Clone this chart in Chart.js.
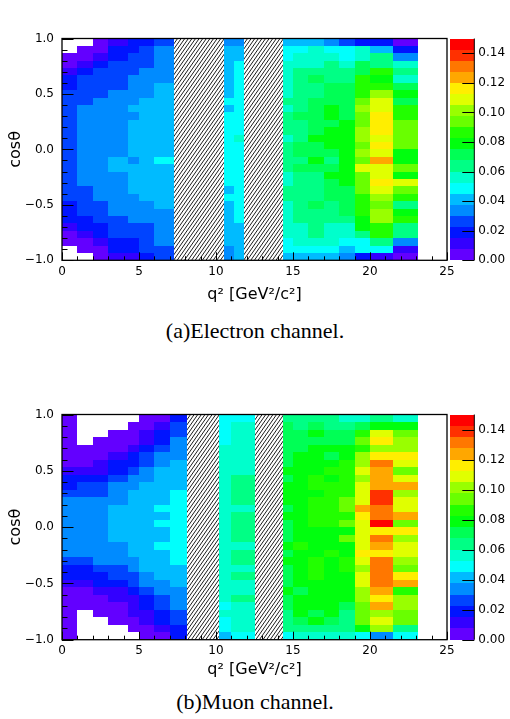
<!DOCTYPE html>
<html>
<head>
<meta charset="utf-8">
<script src="https://cdn.jsdelivr.net/npm/chart.js@4.4.1/dist/chart.umd.min.js"></script>
<style>
  body { margin: 0; background: #fff; }
  #page { position: relative; width: 510px; height: 719px; }
  canvas { position: absolute; left: 0; }
  .cap { position: absolute; left: 0; width: 510px; text-align: center;
         font-family: 'Liberation Serif', serif; font-size: 22px; line-height: 26px; color: #000; }
</style>
</head>
<body>
<div id="page">
  <canvas id="elec" width="510" height="304" style="top:0"></canvas>
  <div class="cap" style="top:318px">(a)Electron channel.</div>
  <canvas id="muon" width="510" height="303" style="top:376px"></canvas>
  <div class="cap" style="top:689px">(b)Muon channel.</div>
</div>
<script>
const n = null;

// q^2 bin edges [GeV^2/c^2]; the veto windows are left empty (hatched)
const elecEdges = [0, 1, 2, 3, 4.3, 5, 6, 7.3, 10.5, 11.2, 11.8, 14.35, 15, 16, 17, 18, 19, 20, 21.5, 23.1];
const elecVeto = [[7.3, 10.5], [11.8, 14.35]];
const muonEdges = [0, 1, 2, 3, 4.3, 5, 6, 7, 8.1, 10.2, 11, 12.55, 14.35, 15, 16, 17, 18, 19, 20, 21.5, 23.1];
const muonVeto = [[8.1, 10.2], [12.55, 14.35]];

// 30 cos(theta) bins, rows listed from cos = +1 (top) down to cos = -1
const cosBins = 30;

// efficiency per cell, electron channel
const elecEff = [
  [n, n, .004, .011, .019, .019, .026, n, .034, .034, n, .041, .041, .041, .034, .026, .019, .019, .004],
  [n, .004, .004, .019, .019, .026, .034, n, .041, .041, n, .049, .049, .056, .049, .049, .056, .041, .019],
  [.004, .004, .011, .019, .026, .026, .034, n, .041, .041, n, .049, .056, .056, .056, .049, .056, .064, .034],
  [.004, .011, .019, .026, .026, .026, .034, n, .041, .049, n, .056, .056, .056, .064, .056, .071, .064, .056],
  [.011, .019, .026, .026, .026, .034, .034, n, .041, .049, n, .056, .064, .064, .064, .064, .071, .086, .064],
  [.019, .026, .026, .026, .034, .034, .034, n, .041, .049, n, .056, .064, .071, .064, .064, .086, .079, .056],
  [.019, .026, .026, .026, .034, .034, .041, n, .041, .049, n, .056, .064, .064, .071, .071, .086, .086, .071],
  [.026, .026, .026, .034, .034, .034, .041, n, .041, .049, n, .056, .064, .064, .071, .071, .086, .101, .079],
  [.026, .026, .034, .034, .034, .041, .041, n, .049, .049, n, .064, .064, .071, .071, .071, .094, .109, .071],
  [.026, .034, .034, .034, .041, .041, .041, n, .041, .049, n, .056, .064, .071, .079, .071, .101, .109, .086],
  [.026, .034, .034, .034, .034, .041, .041, n, .049, .049, n, .064, .071, .071, .079, .071, .094, .116, .086],
  [.026, .034, .034, .034, .041, .041, .041, n, .049, .049, n, .064, .064, .071, .071, .079, .094, .116, .094],
  [.026, .034, .034, .034, .041, .041, .041, n, .049, .049, n, .064, .064, .071, .079, .079, .101, .116, .094],
  [.026, .034, .034, .034, .041, .041, .041, n, .049, .056, n, .056, .064, .079, .079, .079, .101, .109, .094],
  [.026, .034, .034, .034, .041, .041, .041, n, .049, .049, n, .064, .071, .071, .079, .079, .094, .116, .094],
  [.026, .034, .034, .034, .041, .041, .041, n, .049, .049, n, .064, .071, .071, .071, .079, .101, .109, .079],
  [.026, .034, .034, .041, .034, .041, .049, n, .049, .049, n, .064, .064, .079, .064, .079, .094, .124, .079],
  [.026, .034, .034, .041, .041, .041, .041, n, .049, .049, n, .064, .071, .071, .071, .079, .109, .109, .094],
  [.026, .034, .034, .034, .041, .041, .041, n, .049, .049, n, .056, .064, .064, .079, .079, .094, .109, .079],
  [.026, .034, .034, .034, .041, .041, .041, n, .049, .049, n, .056, .064, .064, .071, .079, .094, .116, .109],
  [.026, .026, .034, .034, .041, .041, .041, n, .041, .049, n, .064, .064, .064, .071, .071, .094, .109, .094],
  [.026, .026, .034, .034, .034, .041, .041, n, .049, .049, n, .064, .064, .064, .071, .071, .086, .101, .086],
  [.019, .026, .026, .034, .034, .034, .041, n, .041, .049, n, .056, .064, .071, .064, .071, .086, .094, .064],
  [.019, .026, .026, .034, .034, .034, .034, n, .041, .049, n, .056, .064, .064, .064, .071, .086, .101, .079],
  [.019, .019, .026, .026, .034, .034, .034, n, .041, .049, n, .056, .064, .064, .064, .064, .079, .101, .086],
  [.011, .019, .019, .026, .026, .026, .034, n, .041, .041, n, .056, .056, .064, .056, .056, .079, .086, .064],
  [.004, .011, .019, .026, .026, .026, .034, n, .041, .041, n, .056, .056, .064, .056, .056, .064, .086, .064],
  [.004, .004, .011, .019, .019, .026, .034, n, .041, .041, n, .049, .056, .056, .056, .049, .049, .064, .034],
  [n, .004, .004, .019, .019, .026, .026, n, .034, .041, n, .049, .049, .049, .049, .041, .049, .049, .011],
  [n, n, .004, .011, .011, .019, .026, n, .034, .041, n, .041, .041, .041, .041, .034, .019, .011, .004]
];

// efficiency per cell, muon channel
const muonEff = [
  [.004, n, n, n, n, .004, .004, .019, n, .049, .049, n, .064, .064, .064, .064, .056, .056, .064, .056],
  [.004, n, n, n, .004, .004, .011, .026, n, .049, .056, n, .071, .064, .071, .064, .064, .071, .079, .079],
  [.004, n, n, .004, .004, .011, .019, .026, n, .049, .056, n, .071, .071, .079, .071, .071, .086, .109, .094],
  [.004, n, .004, .004, .004, .011, .019, .034, n, .049, .056, n, .071, .071, .071, .071, .071, .094, .116, .101],
  [.004, .004, .004, .004, .011, .019, .026, .034, n, .056, .056, n, .071, .071, .079, .079, .079, .086, .101, .101],
  [.004, .004, .004, .011, .019, .026, .034, .034, n, .056, .056, n, .071, .079, .079, .071, .079, .101, .116, .116],
  [.004, .004, .011, .019, .019, .026, .034, .041, n, .056, .056, n, .071, .079, .079, .079, .086, .101, .131, .109],
  [.011, .011, .011, .019, .026, .034, .041, .041, n, .056, .056, n, .079, .079, .079, .086, .086, .109, .124, .094],
  [.019, .019, .019, .026, .034, .034, .041, .041, n, .056, .064, n, .071, .079, .086, .079, .086, .101, .124, .109],
  [.019, .026, .026, .034, .034, .041, .041, .041, n, .056, .064, n, .079, .079, .086, .086, .086, .109, .124, .124],
  [.026, .026, .026, .034, .041, .041, .041, .049, n, .056, .064, n, .079, .079, .079, .086, .086, .109, .139, .101],
  [.034, .034, .034, .034, .041, .041, .041, .049, n, .056, .064, n, .079, .079, .086, .086, .094, .109, .139, .109],
  [.034, .034, .034, .041, .041, .041, .049, .049, n, .056, .056, n, .071, .079, .086, .086, .094, .124, .131, .109],
  [.034, .034, .034, .041, .041, .041, .041, .049, n, .056, .064, n, .079, .079, .086, .086, .086, .116, .131, .124],
  [.034, .034, .034, .041, .041, .041, .049, .049, n, .056, .064, n, .071, .079, .086, .086, .094, .109, .146, .094],
  [.034, .034, .034, .041, .041, .041, .041, .049, n, .056, .064, n, .071, .079, .079, .079, .079, .109, .116, .116],
  [.034, .034, .034, .041, .041, .041, .041, .049, n, .056, .064, n, .071, .079, .079, .079, .094, .109, .131, .101],
  [.034, .034, .034, .034, .041, .041, .049, .049, n, .056, .056, n, .079, .086, .079, .079, .079, .109, .124, .109],
  [.034, .034, .034, .034, .041, .041, .041, .049, n, .056, .064, n, .071, .079, .079, .086, .079, .116, .116, .109],
  [.026, .026, .034, .034, .034, .041, .041, .049, n, .056, .064, n, .079, .079, .086, .079, .086, .109, .131, .101],
  [.019, .019, .026, .026, .034, .041, .041, .041, n, .056, .056, n, .071, .079, .086, .079, .086, .101, .131, .094],
  [.019, .019, .019, .026, .026, .034, .041, .041, n, .056, .064, n, .071, .079, .086, .079, .079, .109, .131, .116],
  [.011, .011, .019, .019, .026, .034, .034, .041, n, .056, .056, n, .071, .079, .079, .079, .079, .109, .131, .124],
  [.004, .004, .011, .011, .019, .026, .034, .034, n, .056, .056, n, .079, .071, .079, .079, .079, .101, .124, .086],
  [.004, .004, .004, .011, .011, .019, .026, .034, n, .056, .064, n, .071, .079, .079, .079, .079, .101, .116, .101],
  [.004, .004, .004, .004, .011, .019, .026, .034, n, .049, .056, n, .071, .079, .079, .079, .071, .094, .124, .101],
  [.004, n, .004, .004, .011, .011, .019, .026, n, .056, .056, n, .064, .079, .071, .079, .064, .094, .101, .094],
  [.004, n, n, .004, .004, .011, .019, .026, n, .049, .056, n, .064, .071, .079, .071, .064, .094, .109, .094],
  [.004, n, n, n, .004, .004, .011, .019, n, .049, .056, n, .064, .064, .064, .064, .064, .079, .101, .064],
  [.004, n, n, n, n, .004, .004, .019, n, .041, .049, n, .049, .056, .056, .056, .056, .049, .034, .049]
];

// colour scale: 20 contours from 0 to 0.15, ROOT "pretty" palette
const zMin = 0, zMax = 0.15, nLevels = 20;
const zStep = (zMax - zMin) / nLevels;

function levelColor(k) {
  const ci = Math.floor((k + 0.99) * 50 / nLevels);
  const hue = ci >= 49 ? 0 : 280 - (ci + 1) * 5.6;
  return 'hsl(' + hue + ',100%,50%)';
}
function zColor(v) {
  return levelColor(Math.min(nLevels - 1, Math.floor((v - zMin) / zStep)));
}

function buildCells(edges, rows) {
  const step = 2 / cosBins;
  const cells = [];
  rows.forEach((row, r) => {
    const hi = 1 - r * step, lo = hi - step;
    row.forEach((v, i) => {
      if (v === null) return;
      cells.push({ x: (edges[i] + edges[i + 1]) / 2, y: (hi + lo) / 2,
                   x0: edges[i], x1: edges[i + 1], y0: lo, y1: hi, v: v });
    });
  });
  return cells;
}

const heatmap = {
  id: 'heatmap',
  beforeDatasetsDraw(chart) {
    const { ctx, chartArea: a, scales: { x, y } } = chart;
    ctx.save();
    ctx.beginPath();
    ctx.rect(a.left, a.top, a.right - a.left, a.bottom - a.top);
    ctx.clip();
    chart.data.datasets[0].data.forEach(c => {
      const px0 = Math.round(x.getPixelForValue(c.x0)), px1 = Math.round(x.getPixelForValue(c.x1));
      const py1 = Math.round(y.getPixelForValue(c.y1)), py0 = Math.round(y.getPixelForValue(c.y0));
      ctx.fillStyle = zColor(c.v);
      ctx.fillRect(px0, py1, px1 - px0, py0 - py1);
    });
    // hatched veto windows
    const veto = chart.options.plugins.heatmap.veto;
    ctx.strokeStyle = '#000';
    ctx.lineWidth = 0.9;
    veto.forEach(([q0, q1]) => {
      const xa = Math.round(x.getPixelForValue(q0)), xb = Math.round(x.getPixelForValue(q1));
      ctx.save();
      ctx.beginPath();
      ctx.rect(xa, a.top, xb - xa, a.bottom - a.top);
      ctx.clip();
      ctx.fillStyle = '#fff';
      ctx.fillRect(xa, a.top, xb - xa, a.bottom - a.top);
      const h = a.bottom - a.top, slope = 0.7;
      ctx.beginPath();
      for (let s = xa - h * slope; s < xb; s += 3.6) {
        ctx.moveTo(s, a.bottom);
        ctx.lineTo(s + h * slope, a.top);
      }
      ctx.stroke();
      ctx.restore();
    });
    ctx.restore();
  },
  afterDatasetsDraw(chart) {
    const { ctx, chartArea: a, scales: { x, y, z } } = chart;
    ctx.save();
    ctx.strokeStyle = '#000';
    ctx.lineWidth = 1;
    ctx.beginPath();
    for (let q = 0; q <= 25; q++) {
      const px = Math.round(x.getPixelForValue(q)) + 0.5;
      const len = q % 5 === 0 ? 8 : 4;
      ctx.moveTo(px, a.bottom);
      ctx.lineTo(px, a.bottom - len);
    }
    for (let i = -10; i <= 10; i++) {
      const py = Math.round(y.getPixelForValue(i / 10)) + 0.5;
      const len = i % 5 === 0 ? 11.5 : 5.5;
      ctx.moveTo(a.left, py);
      ctx.lineTo(a.left + len, py);
    }
    ctx.stroke();
    ctx.lineWidth = 1.3;
    ctx.strokeRect(a.left, a.top, a.right - a.left, a.bottom - a.top);

    // colour bar
    const bx0 = a.right + 3, bx1 = a.right + 27.3;
    for (let k = 0; k < nLevels; k++) {
      const ya = Math.round(z.getPixelForValue(zMin + k * zStep));
      const yb = Math.round(z.getPixelForValue(zMin + (k + 1) * zStep));
      ctx.fillStyle = levelColor(k);
      ctx.fillRect(bx0, yb, bx1 - bx0, ya - yb);
    }
    ctx.lineWidth = 1;
    ctx.beginPath();
    ctx.moveTo(bx1, a.top);
    ctx.lineTo(bx1, a.bottom);
    z.ticks.forEach(t => {
      const py = Math.round(z.getPixelForValue(t.value)) + 0.5;
      ctx.moveTo(bx1, py);
      ctx.lineTo(bx1 - 12, py);
    });
    ctx.stroke();
    ctx.restore();
  }
};

Chart.defaults.font.family = 'DejaVu Sans';
Chart.defaults.font.size = 12;
Chart.defaults.color = '#000';

function makeChart(id, edges, rows, veto, padTop, xAxisHeight) {
  const noGrid = { display: false, drawTicks: false };
  return new Chart(document.getElementById(id), {
    type: 'scatter',
    data: { datasets: [{ data: buildCells(edges, rows), pointRadius: 0, showLine: false }] },
    options: {
      responsive: false,
      animation: false,
      events: [],
      layout: { padding: { top: padTop, left: 0, right: 0, bottom: 0 } },
      plugins: { legend: { display: false }, tooltip: { enabled: false }, heatmap: { veto: veto } },
      scales: {
        x: {
          type: 'linear', position: 'bottom', min: 0, max: 25,
          grid: noGrid, border: { display: false },
          ticks: { stepSize: 5, padding: 4, maxRotation: 0 },
          title: { display: true, text: 'q\u00b2 [GeV\u00b2/c\u00b2]', font: { size: 16 }, padding: 0 },
          afterFit: s => { s.height = xAxisHeight; }
        },
        y: {
          type: 'linear', position: 'left', min: -1, max: 1,
          grid: noGrid, border: { display: false },
          ticks: { stepSize: 0.5, padding: 8, callback: v => v.toFixed(1).replace('-', '\u2212') },
          title: { display: true, text: 'cos\u03b8', font: { size: 16 }, padding: { top: 6, bottom: 0 } },
          afterFit: s => { s.width = 62; }
        },
        z: {
          type: 'linear', position: 'right', min: zMin, max: zMax,
          grid: noGrid, border: { display: false },
          ticks: { stepSize: 0.02, includeBounds: false, padding: 31.3, callback: v => v.toFixed(2) },
          afterFit: s => { s.width = 63; }
        }
      }
    },
    plugins: [heatmap]
  });
}

makeChart('elec', elecEdges, elecEff, elecVeto, 13.7, 43.7);
makeChart('muon', muonEdges, muonEff, muonVeto, 16.3, 39.3);
</script>
</body>
</html>
